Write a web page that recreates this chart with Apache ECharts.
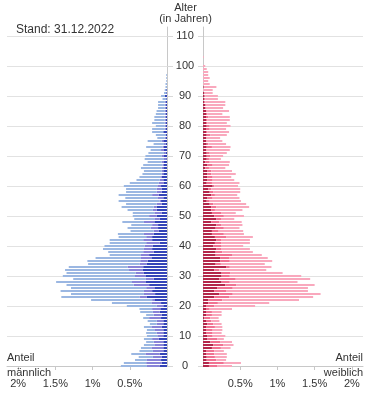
<!DOCTYPE html>
<html>
<head>
<meta charset="utf-8">
<script src="https://cdn.jsdelivr.net/npm/echarts@6/dist/echarts.min.js"></script>
<style>
  html, body { margin: 0; padding: 0; background: #fff; }
  #chart { width: 375px; height: 416px; }
</style>
</head>
<body>
<div id="chart"></div>
<script>
// Anteil an der Gesamtbevoelkerung in %, je Altersjahr (Index = Alter)
// maennlich: drei Teilgruppen, von der Mitte nach aussen gestapelt
const maleDark = [
  .10, .07, .08, .07, .10, .05, .05, .05, .05, .11,
  .05, .05, .05, .07, .05, .05, .08, .07, .10, .09,
  .05, .08, .17, .27, .16, .20, .17, .24, .29, .18,
  .29, .31, .33, .32, .27, .26, .21, .24, .18, .20,
  .19, .10, .20, .20, .18, .11, .12, .12, .17, .10,
  .14, .07, .14, .14, .07, .08, .05, .11, .07, .07,
  .08, .04, .05, .07, .05, .05, .05, .04, .04, .01,
  .04, .02, .04, .04, .02, .05, .02, .02, .05, .02,
  .02, .02, .02, .02, .02, .02, .02, .02, .02, .01,
  .03, .01, .01, 0, 0, 0, 0, 0
]
const maleMid = [
  .17, .21, .19, .12, .19, .14, .16, .12, .13, .09,
  .08, .09, .12, .14, .09, .09, .16, .11, .09, .11,
  .09, .13, .03, .10, .15, .11, .11, .21, .18, .11,
  .14, .11, .18, .21, .10, .10, .14, .11, .14, .11,
  .11, .18, .12, .08, .13, .07, .10, .08, .14, .07,
  .10, .10, .05, .04, .07, .02, .08, .09, .07, .07,
  .05, .07, .05, .02, .02, .02, .02, .02, .03, .03,
  .03, .02, .04, .02, .02, .02, .01, 0, 0, .01,
  .01, .01, .01, .01, .01, .01, .01, .01, .01, 0,
  0, 0, 0, 0, 0, 0, 0, 0
]
const maleLight = [
  .35, .30, .16, .19, .19, .18, .14, .14, .10, .11,
  .14, .14, .10, .10, .09, .12, .08, .10, .17, .17,
  .40, .53, .82, 1.05, .98, 1.12, 1.01, .90, 1.02, .97,
  .97, .93, .86, .79, .69, .71, .61, .42, .47, .55,
  .54, .49, .45, .37, .35, .31, .31, .28, .29, .27,
  .22, .29, .34, .43, .41, .55, .43, .45, .41, .41,
  .45, .39, .31, .28, .26, .24, .28, .26, .19, .26,
  .22, .21, .14, .22, .14, .19, .10, .13, .15, .17,
  .12, .17, .14, .14, .12, .11, .09, .09, .09, .05,
  .05, .03, .02, .02, .02, .01, .01, .01
]
// weiblich
const femaleDark = [
  .08, .08, .05, .05, .04, .04, .12, .14, .10, .06,
  .06, .04, .04, .04, .06, .04, .02, .04, .04, .04,
  .04, .07, .07, .15, .22, .15, .19, .30, .25, .22,
  .25, .25, .15, .31, .17, .23, .23, .17, .17, .18,
  .14, .16, .18, .16, .12, .12, .17, .18, .11, .18,
  .15, .12, .11, .11, .09, .05, .06, .11, .09, .07,
  .13, .05, .06, .06, .06, .06, .03, .06, .03, .05,
  .05, .05, .04, .05, .05, .04, .04, .05, .04, .04,
  .05, .04, .04, .04, .04, .04, .03, .03, .02, .02,
  .02, .02, 0, .01, 0, 0, 0, 0, 0, 0,
  0, 0, 0, 0
]
const femaleMid = [
  .11, .20, .13, .11, .11, .11, .12, .13, .13, .13,
  .07, .09, .09, .12, .08, .07, .08, .08, .08, .05,
  .11, .13, .19, .20, .18, .16, .21, .15, .11, .22,
  .11, .12, .07, .05, .07, .13, .12, .22, .09, .07,
  .11, .09, .07, .15, .16, .09, .11, .07, .11, .07,
  .13, .13, .05, .07, .05, .04, .07, .05, .05, .04,
  .02, .07, .07, .07, .05, .05, .05, .07, .06, .03,
  .05, .04, .01, .07, .02, .01, .01, .05, .02, .05,
  .04, .02, .02, .03, .02, .01, .01, .01, .01, .01,
  .01, 0, 0, 0, 0, 0, 0, 0, 0, 0,
  0, 0, 0, 0
]
const femaleLight = [
  .20, .23, .13, .16, .17, .13, .13, .14, .16, .09,
  .17, .12, .13, .10, .11, .11, .11, .13, .13, .30,
  .55, .69, 1.03, 1.13, 1.18, 1.10, 1.01, 1.05, .91, 1.00,
  .96, .70, .63, .56, .59, .57, .52, .40, .41, .38,
  .29, .38, .38, .36, .27, .33, .21, .28, .30, .17,
  .27, .19, .37, .44, .44, .42, .36, .30, .36, .39,
  .32, .37, .29, .25, .33, .28, .22, .22, .27, .16,
  .17, .23, .31, .25, .24, .21, .18, .22, .29, .22,
  .28, .26, .30, .29, .20, .30, .23, .26, .27, .17,
  .17, .11, .13, .17, .09, .07, .09, .07, .07, .05,
  .03, 0, 0, .01
]
const shareTicks = [0.5, 1, 1.5, 2]
const maxAge = 113

const ages = []
for (let a = 0; a <= maxAge; a++) ages.push(String(a))

const font = "'Liberation Sans', Arial, sans-serif"
const txt = "#333"

const chart = echarts.init(document.getElementById("chart"), null, { renderer: "canvas" })

const xAxisBase = {
  type: "value",
  min: 0,
  max: 2.15,
  interval: 0.5,
  splitLine: { show: false },
  axisLine: { show: true, lineStyle: { color: "#c8c8c8" } },
  axisTick: { show: true, length: 4, customValues: shareTicks, lineStyle: { color: "#c8c8c8" } },
  axisLabel: {
    customValues: shareTicks,
    formatter: (v) => v + "%",
    margin: 12,
    fontSize: 11,
    color: txt,
    fontFamily: font,
  },
}

const yAxisBase = {
  type: "category",
  data: ages,
  boundaryGap: false,
  axisLine: { show: true, lineStyle: { color: "#c8c8c8" } },
  splitLine: { show: true, interval: 9, lineStyle: { color: "#e2e2e2" } },
}

const bar = (name, data, axis, stack, color) => ({
  name,
  type: "bar",
  xAxisIndex: axis,
  yAxisIndex: axis,
  stack,
  barWidth: 2,
  clip: false,
  silent: true,
  data,
  itemStyle: { color },
})

const titleText = (text, pos, size) => ({
  text,
  ...pos,
  padding: 0,
  textStyle: { fontSize: size || 11, fontWeight: "normal", color: txt, fontFamily: font, lineHeight: 13 },
})

const option = {
  animation: false,
  textStyle: { fontFamily: font },
  title: [
    titleText("Stand: 31.12.2022", { left: 16, top: 23.5 }, 12),
    titleText("Alter", { left: 185.5, top: 1.5, textAlign: "center" }),
    titleText("(in Jahren)", { left: 185.5, top: 12.5, textAlign: "center" }),
    titleText("Anteil", { left: 7, top: 351.5 }),
    titleText("männlich", { left: 7, top: 366 }),
    titleText("Anteil", { right: 12, top: 351.5 }),
    titleText("weiblich", { right: 12, top: 366 }),
  ],
  grid: [
    { left: 7, right: 208, top: 27, bottom: 50 },
    { left: 203, right: 12, top: 27, bottom: 50 },
  ],
  xAxis: [
    { ...xAxisBase, gridIndex: 0, inverse: true },
    { ...xAxisBase, gridIndex: 1 },
  ],
  yAxis: [
    {
      ...yAxisBase,
      gridIndex: 0,
      position: "right",
      axisTick: { show: true, interval: 9, length: 6, lineStyle: { color: "#d8d8d8" } },
      axisLabel: { show: false },
    },
    {
      ...yAxisBase,
      gridIndex: 1,
      position: "left",
      axisTick: { show: true, interval: 9, length: 5, lineStyle: { color: "#d8d8d8" } },
      axisLabel: { interval: 9, align: "center", margin: 18, fontSize: 11, color: txt, fontFamily: font },
    },
  ],
  series: [
    bar("männlich 1", maleDark, 0, "m", "#3444b8"),
    bar("männlich 2", maleMid, 0, "m", "#8883d8"),
    bar("männlich 3", maleLight, 0, "m", "#9bb7e2"),
    bar("weiblich 1", femaleDark, 1, "w", "#b3264a"),
    bar("weiblich 2", femaleMid, 1, "w", "#f07292"),
    bar("weiblich 3", femaleLight, 1, "w", "#f9a8bd"),
  ],
}

chart.setOption(option)
</script>
</body>
</html>
